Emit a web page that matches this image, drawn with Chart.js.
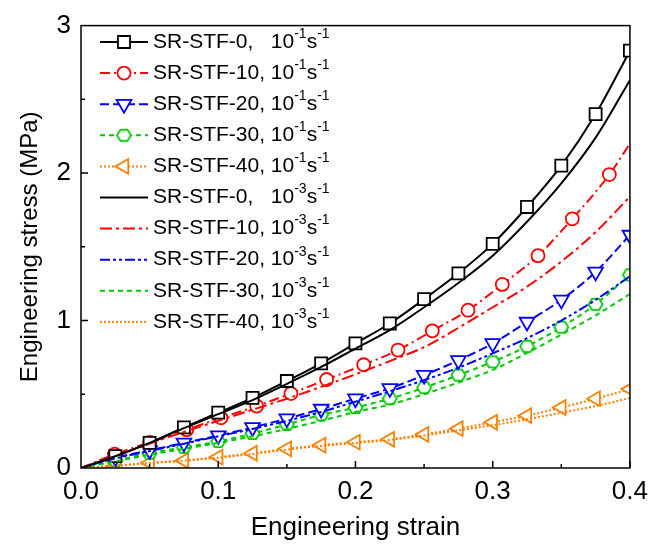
<!DOCTYPE html>
<html>
<head>
<meta charset="utf-8">
<script src="https://cdn.jsdelivr.net/npm/chart.js@4.4.0/dist/chart.umd.min.js"></script>
<style>
  html, body { margin: 0; padding: 0; background: #fff; }
</style>
</head>
<body>
<canvas id="stressStrain" width="656" height="552"></canvas>
<script>
// strain grid shared by most curves
const strain = [0, 0.025, 0.05, 0.075, 0.1, 0.125, 0.15, 0.175, 0.2, 0.225, 0.25, 0.275, 0.3, 0.325, 0.35, 0.375, 0.4]
// the red circles sit on a slightly different spacing
const circleStrain = [0, 0.0245, 0.05, 0.077, 0.102, 0.128, 0.153, 0.179, 0.206, 0.231, 0.256, 0.282, 0.307, 0.333, 0.358, 0.385, 0.4]

// stress (MPa), 10^-1 s^-1
const stf0Fast = [0, 0.08, 0.17, 0.275, 0.375, 0.475, 0.59, 0.71, 0.845, 0.98, 1.145, 1.32, 1.52, 1.77, 2.05, 2.40, 2.83]
const stf10Fast = [0, 0.094, 0.174, 0.26, 0.34, 0.42, 0.505, 0.60, 0.70, 0.80, 0.93, 1.07, 1.245, 1.44, 1.69, 1.99, 2.20]
const stf20Fast = [0, 0.07, 0.12, 0.17, 0.22, 0.275, 0.335, 0.40, 0.47, 0.54, 0.63, 0.73, 0.845, 0.99, 1.14, 1.33, 1.58]
const stf30Fast = [0, 0.05, 0.10, 0.14, 0.18, 0.234, 0.295, 0.36, 0.41, 0.47, 0.545, 0.63, 0.72, 0.825, 0.955, 1.11, 1.31]
const stf40Fast = [0, 0.015, 0.035, 0.05, 0.074, 0.10, 0.13, 0.155, 0.175, 0.195, 0.228, 0.267, 0.31, 0.355, 0.41, 0.47, 0.535]

// stress (MPa), 10^-3 s^-1
const stf0Slow = [0, 0.08, 0.17, 0.27, 0.365, 0.46, 0.57, 0.685, 0.81, 0.935, 1.09, 1.255, 1.44, 1.67, 1.93, 2.24, 2.63]
const stf10Slow = [0, 0.08, 0.165, 0.245, 0.32, 0.395, 0.47, 0.55, 0.635, 0.725, 0.82, 0.95, 1.09, 1.23, 1.40, 1.6, 1.84]
const stf20Slow = [0, 0.065, 0.115, 0.165, 0.215, 0.265, 0.32, 0.38, 0.45, 0.52, 0.596, 0.68, 0.777, 0.88, 1.0, 1.14, 1.30]
const stf30Slow = [0, 0.045, 0.09, 0.13, 0.17, 0.215, 0.265, 0.32, 0.38, 0.43, 0.5, 0.58, 0.665, 0.78, 0.905, 1.035, 1.18]
const stf40Slow = [0, 0.015, 0.033, 0.05, 0.07, 0.095, 0.125, 0.15, 0.17, 0.19, 0.22, 0.255, 0.29, 0.33, 0.375, 0.42, 0.475]

const names = ['SR-STF-0', 'SR-STF-10', 'SR-STF-20', 'SR-STF-30', 'SR-STF-40',
  'SR-STF-0', 'SR-STF-10', 'SR-STF-20', 'SR-STF-30', 'SR-STF-40']
const rates = ['-1', '-1', '-1', '-1', '-1', '-3', '-3', '-3', '-3', '-3']

const xTicks = [0, 0.1, 0.2, 0.3, 0.4]
const yTicks = [0, 1, 2, 3]

const FONT = '"Liberation Sans", Arial, sans-serif'
const BLACK = '#000000', RED = '#ff0000', BLUE = '#0000ff', GREEN = '#00c800', ORANGE = '#ff8000'

// hexagon marker (no built-in style for it)
function hexagon(color) {
  const c = document.createElement('canvas')
  c.width = 17; c.height = 17
  const g = c.getContext('2d')
  g.beginPath()
  for (let i = 0; i < 6; i++) {
    const a = i * Math.PI / 3
    const px = 8.5 + 7 * Math.cos(a), py = 8.5 + 6.6 * Math.sin(a)
    i ? g.lineTo(px, py) : g.moveTo(px, py)
  }
  g.closePath()
  g.fillStyle = '#fff'
  g.fill()
  g.lineWidth = 1.8
  g.strokeStyle = color
  g.stroke()
  return c
}

const pts = (xs, ys) => xs.map((x, i) => ({ x, y: ys[i] }))
// no marker on the first point (and optionally the last)
const radii = (n, r, skipLast) => Array.from({ length: n }, (_, i) => (i === 0 || (skipLast && i === n - 1)) ? 0 : r)

function markerSet(label, xs, ys, color, dash, style, r, rotation, skipLast) {
  return {
    label, data: pts(xs, ys), order: 1,
    borderColor: color, borderWidth: 2, borderDash: dash,
    pointStyle: style, pointRadius: radii(xs.length, r, skipLast), pointRotation: rotation,
    pointBorderColor: color, pointBackgroundColor: '#fff', pointBorderWidth: 1.8,
    cubicInterpolationMode: 'monotone', fill: false
  }
}
function lineSet(label, ys, color, dash) {
  return {
    label, data: pts(strain, ys), order: 0,
    borderColor: color, borderWidth: 2, borderDash: dash, pointRadius: 0,
    cubicInterpolationMode: 'monotone', fill: false
  }
}

const datasets = [
  markerSet('0f', strain, stf0Fast, BLACK, [], 'rect', 8.5, 0, false),
  markerSet('10f', circleStrain, stf10Fast, RED, [10, 4, 2, 4], 'circle', 6.5, 0, true),
  markerSet('20f', strain, stf20Fast, BLUE, [9, 4], 'triangle', 8.5, 180, false),
  markerSet('30f', strain, stf30Fast, GREEN, [5, 4], hexagon(GREEN), 7, 0, false),
  markerSet('40f', strain, stf40Fast, ORANGE, [2, 2], 'triangle', 8.5, 270, false),
  lineSet('0s', stf0Slow, BLACK, []),
  lineSet('10s', stf10Slow, RED, [12, 4, 3, 4]),
  lineSet('20s', stf20Slow, BLUE, [10, 3, 3, 3, 3, 3]),
  lineSet('30s', stf30Slow, GREEN, [5, 4]),
  lineSet('40s', stf40Slow, ORANGE, [2, 2])
]

// frame, inward ticks and the in-plot legend
const framePlugin = {
  id: 'frame',
  afterDatasetsDraw(chart) {
    const { ctx, chartArea: a, scales: { x, y } } = chart
    ctx.save()
    ctx.strokeStyle = '#000'
    ctx.lineWidth = 1.5
    ctx.strokeRect(a.left, a.top, a.right - a.left, a.bottom - a.top)
    ctx.beginPath()
    for (let v = 0.05; v < 0.4; v += 0.05) {
      const px = x.getPixelForValue(v)
      const major = Math.abs(v * 10 - Math.round(v * 10)) < 1e-6
      ctx.moveTo(px, a.bottom); ctx.lineTo(px, a.bottom - (major ? 7 : 4))
    }
    for (let v = 0.5; v < 3; v += 0.5) {
      const py = y.getPixelForValue(v)
      const major = Number.isInteger(v)
      ctx.moveTo(a.left, py); ctx.lineTo(a.left + (major ? 7 : 4), py)
    }
    ctx.stroke()

    // legend
    ctx.font = '21px ' + FONT
    const rateX = 153 + ctx.measureText('SR-STF-10, ').width
    chart.data.datasets.forEach((ds, i) => {
      const ly = 42 + i * 31.1
      ctx.save()
      ctx.strokeStyle = ds.borderColor
      ctx.lineWidth = ds.borderWidth
      ctx.setLineDash(ds.borderDash)
      ctx.beginPath(); ctx.moveTo(100, ly); ctx.lineTo(148, ly); ctx.stroke()
      ctx.setLineDash([])
      if (ds.order === 1) {
        ctx.strokeStyle = ds.pointBorderColor
        ctx.fillStyle = '#fff'
        ctx.lineWidth = ds.pointBorderWidth
        const r = Math.max(...ds.pointRadius)
        Chart.helpers.drawPoint(ctx, { pointStyle: ds.pointStyle, rotation: ds.pointRotation, radius: r, borderWidth: ds.pointBorderWidth }, 124, ly)
      }
      ctx.restore()

      ctx.fillStyle = '#000'
      ctx.textBaseline = 'middle'
      ctx.font = '21px ' + FONT
      ctx.fillText(names[i] + ',', 153, ly)
      let cx = rateX
      ctx.fillText('10', cx, ly); cx += ctx.measureText('10').width
      ctx.font = '14px ' + FONT
      ctx.fillText(rates[i], cx, ly - 8); cx += ctx.measureText(rates[i]).width
      ctx.font = '21px ' + FONT
      ctx.fillText('s', cx, ly); cx += ctx.measureText('s').width
      ctx.font = '14px ' + FONT
      ctx.fillText('-1', cx, ly - 8)
    })
    ctx.restore()
  }
}

new Chart(document.getElementById('stressStrain'), {
  type: 'line',
  data: { datasets },
  plugins: [framePlugin],
  options: {
    responsive: false,
    animation: false,
    devicePixelRatio: 1,
    layout: { padding: { top: 20, right: 19, left: 0, bottom: 0 } },
    plugins: { legend: { display: false }, tooltip: { enabled: false } },
    scales: {
      x: {
        type: 'linear', min: 0, max: 0.4,
        afterFit: s => { s.height = 84 },
        afterBuildTicks: s => { s.ticks = xTicks.map(v => ({ value: v })) },
        grid: { display: false, drawTicks: false },
        border: { display: false },
        ticks: { padding: 8, color: '#000', font: { family: FONT, size: 26 }, callback: v => v.toFixed(1) },
        title: { display: true, text: 'Engineering strain', color: '#000', font: { family: FONT, size: 26 }, padding: { top: 0, bottom: 9 } }
      },
      y: {
        type: 'linear', min: 0, max: 3,
        afterFit: s => { s.width = 81 },
        afterBuildTicks: s => { s.ticks = yTicks.map(v => ({ value: v })) },
        grid: { display: false, drawTicks: false },
        border: { display: false },
        ticks: { padding: 10, color: '#000', font: { family: FONT, size: 26 } },
        title: { display: true, text: 'Engineering stress (MPa)', color: '#000', font: { family: FONT, size: 24 }, padding: { top: 16, bottom: 0 } }
      }
    }
  }
})
</script>
</body>
</html>
